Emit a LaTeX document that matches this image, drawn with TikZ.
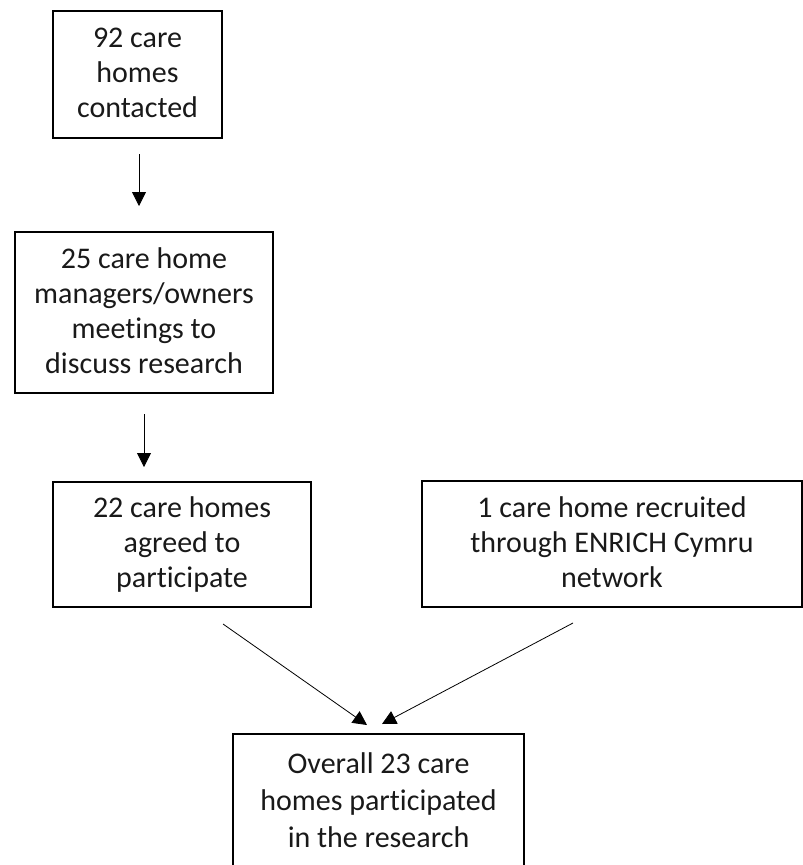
\documentclass[tikz,border=0pt]{standalone}
\usepackage{fontspec}
\setmainfont{Carlito}[Ligatures=NoCommon]
\usetikzlibrary{arrows.meta}
\newcommand\toprl{\rule{0pt}{22pt}}
\newcommand\botrl{\rule[-6pt]{0pt}{6pt}}
\begin{document}
\begin{tikzpicture}[x=1pt,y=-1pt,
  box/.style={draw=black, line width=1.3pt, align=center, inner sep=0pt,
    font=\fontsize{30}{35}\selectfont, text=black!90},
  flow/.style={line width=0.8pt, -{Triangle[width=14pt,length=14pt]}}]
\useasboundingbox (0,0) rectangle (803,865);
\clip (0,0) rectangle (803,865);
\node[box, minimum width=169pt, minimum height=127pt] (b1) at (137.5,74.5) {\toprl 92 care\\homes\\contacted\botrl};
\node[box, minimum width=258pt, minimum height=161pt] (b2) at (144,312.5) {\toprl 25 care home\\managers/owners\\meetings to\\discuss research\botrl};
\node[box, minimum width=258pt, minimum height=125pt] (b3) at (182,544.5) {\toprl 22 care homes\\agreed to\\participate\botrl};
\node[box, minimum width=380pt, minimum height=126pt] (b4) at (612,544) {\toprl 1 care home recruited\\through ENRICH Cymru\\network\botrl};
\node[box, minimum width=291pt, minimum height=136pt, font=\fontsize{30}{37}\selectfont] (b5) at (378.5,802) {\toprl Overall 23 care\\homes participated\\in the research\botrl};
\coordinate (a1s) at (139,154);
\coordinate (a1e) at (139,206);
\coordinate (a2s) at (144,414);
\coordinate (a2e) at (144,467);
\coordinate (a3s) at (223,624);
\coordinate (a3e) at (367,725);
\coordinate (a4s) at (573,623);
\coordinate (a4e) at (382,724);
\draw[flow] (a1s) -- (a1e);
\draw[flow] (a2s) -- (a2e);
\draw[flow] (a3s) -- (a3e);
\draw[flow] (a4s) -- (a4e);
\end{tikzpicture}
\end{document}
